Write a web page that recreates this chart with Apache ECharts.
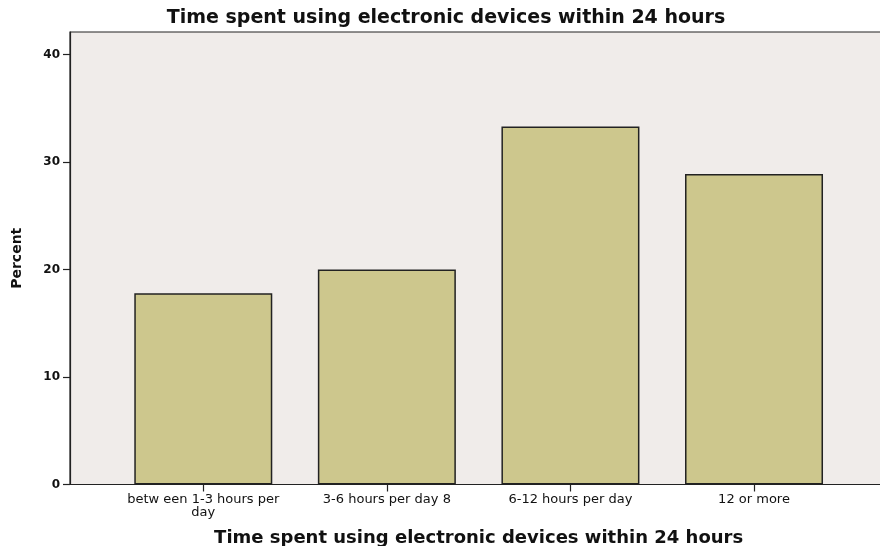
<!DOCTYPE html>
<html lang="en">
  <head>
    <meta charset="utf-8">
    <title>Time spent using electronic devices within 24 hours</title>
    <script src="https://cdn.jsdelivr.net/npm/echarts@6/dist/echarts.min.js"></script>
    <style>
      html, body { margin: 0; padding: 0; background: #fff; }
      #chart { width: 880px; height: 546px; }
    </style>
  </head>
  <body>
    <div id="chart"></div>

    <script type="text/javascript">
    // data
    const categories = ['betw een 1-3 hours per\nday', '3-6 hours per day 8', '6-12 hours per day', '12 or more'];
    const percentValues = [17.8, 20.0, 33.3, 28.9];
    const yTicks = [0, 10, 20, 30, 40];

    const titleText = 'Time spent using electronic devices within 24 hours';
    const yMax = 42.1;

    const chart = echarts.init(document.getElementById('chart'), null, { renderer: 'canvas' });

    chart.setOption({
      animation: false,
      backgroundColor: '#ffffff',
      textStyle: { fontFamily: 'DejaVu Sans, sans-serif' },
      title: {
        text: titleText,
        left: 441,
        textAlign: 'center',
        top: 4,
        textStyle: { fontFamily: 'DejaVu Sans', fontWeight: 'bold', fontSize: 19, color: '#111' }
      },
      grid: [
        // plot frame, background and y axis
        { left: 70, right: -2, top: 32, bottom: 61.5, show: true, backgroundColor: '#f0ecea',
          borderColor: '#222', borderWidth: 1.2, outerBoundsMode: 'none', containLabel: false },
        // bars sit in an inner band like the original layout
        { left: 111.5, right: 34.2, top: 32, bottom: 61.5, outerBoundsMode: 'none', containLabel: false }
      ],
      xAxis: [
        {
          gridIndex: 0, type: 'value', min: 0, max: 1,
          axisLine: { show: true, lineStyle: { color: '#222', width: 1.2 } },
          axisTick: { show: false }, axisLabel: { show: false }, splitLine: { show: false }
        },
        {
          gridIndex: 1, type: 'category', data: categories,
          axisLine: { show: false },
          axisTick: { show: true, alignWithLabel: true, length: 7, lineStyle: { color: '#222', width: 1.2 } },
          axisLabel: { color: '#111', fontSize: 13, lineHeight: 13, margin: 9, interval: 0 },
          name: titleText, nameLocation: 'middle', nameGap: 45,
          nameTextStyle: { fontFamily: 'DejaVu Sans', fontWeight: 'bold', fontSize: 18, color: '#111' }
        }
      ],
      yAxis: [
        {
          gridIndex: 0, type: 'value', min: 0, max: yMax,
          axisLine: { show: true, lineStyle: { color: '#222', width: 1.2 } },
          axisTick: { show: true, length: 7, customValues: yTicks, lineStyle: { color: '#222', width: 1.2 } },
          axisLabel: { color: '#111', fontSize: 12, fontWeight: 'bold', margin: 10, customValues: yTicks },
          splitLine: { show: false },
          name: 'Percent', nameLocation: 'middle', nameGap: 46, nameRotate: 90,
          nameTextStyle: { fontFamily: 'DejaVu Sans', fontWeight: 'bold', fontSize: 14, color: '#111' }
        },
        {
          gridIndex: 1, type: 'value', min: 0, max: yMax, show: false
        }
      ],
      series: [
        {
          type: 'bar',
          xAxisIndex: 1, yAxisIndex: 1,
          data: percentValues,
          barWidth: 138,
          itemStyle: { color: '#cdc78d', borderColor: '#222', borderWidth: 1.5 }
        }
      ]
    });
    </script>
  </body>
</html>
